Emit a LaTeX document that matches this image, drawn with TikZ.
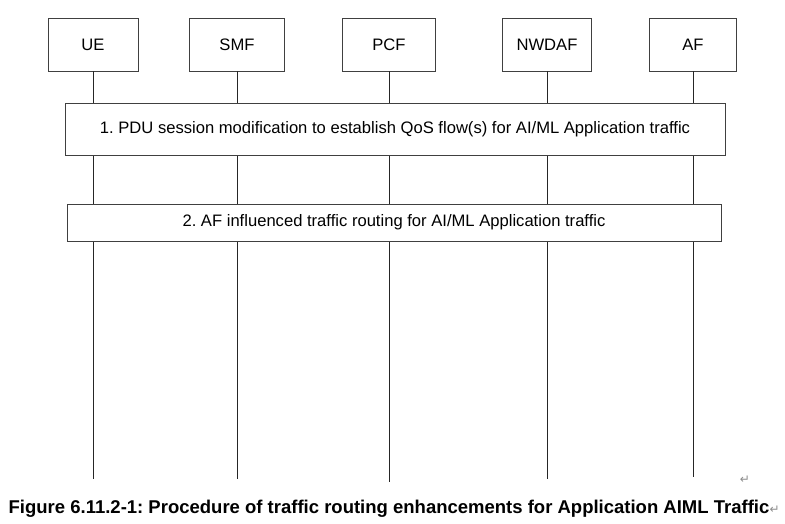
\documentclass[tikz,border=0pt]{standalone}
\usepackage{fontspec}
\setmainfont{Liberation Sans}
\newfontfamily\markfont{DejaVu Sans}
\frenchspacing
\tikzset{
  entity/.style={draw=black!75, line width=0.8pt, minimum height=53pt,
    inner sep=0pt, font=\fontsize{16.6}{18}\selectfont},
  stepbox/.style={draw=black!75, line width=0.8pt, fill=white, inner sep=0pt,
    font=\fontsize{16.6}{18}\selectfont},
  lifeline/.style={draw=black!85, line width=0.8pt},
  parmark/.style={text=black!45, font=\markfont\fontsize{12}{13}\selectfont, inner sep=0pt}
}
\begin{document}
\begin{tikzpicture}[x=1pt, y=-1pt]
  \useasboundingbox (0,0) rectangle (785,523);
  % network functions
  \node[entity, minimum width=90pt] (ue)    at (93,44.5)  {UE};
  \node[entity, minimum width=95pt] (smf)   at (237,44.5) {SMF};
  \node[entity, minimum width=93pt] (pcf)   at (389,44.5) {PCF};
  \node[entity, minimum width=89pt] (nwdaf) at (547,44.5) {NWDAF};
  \node[entity, minimum width=87pt] (af)    at (693,44.5) {AF};
  % lifelines
  \coordinate (ueend)    at (93,479);
  \coordinate (smfend)   at (237,479);
  \coordinate (pcfend)   at (389,482);
  \coordinate (nwdafend) at (547,479);
  \coordinate (afend)    at (693,477);
  \foreach \nf in {ue,smf,pcf,nwdaf,af}
    \draw[lifeline] (\nf.south) -- (\nf end);
  % steps
  \node[stepbox, minimum width=660pt, minimum height=52pt] (step1) at (395,129)
    {1. PDU session modification to establish QoS flow(s) for AI/ML Application traffic};
  \node[stepbox, minimum width=654pt, minimum height=37pt] (step2) at (394,222.5)
    {2. AF influenced traffic routing for AI/ML Application traffic};
  % caption
  \node[parmark] (mark1) at (745,480) {↵};
  \node[anchor=base, inner sep=0pt, font=\bfseries\fontsize{18.5}{20}\selectfont] (caption) at (389,513)
    {Figure 6.11.2-1: Procedure of traffic routing enhancements for Application AIML Traffic};
  \node[parmark, anchor=base west] (mark2) at (caption.base east) {↵};
\end{tikzpicture}
\end{document}
